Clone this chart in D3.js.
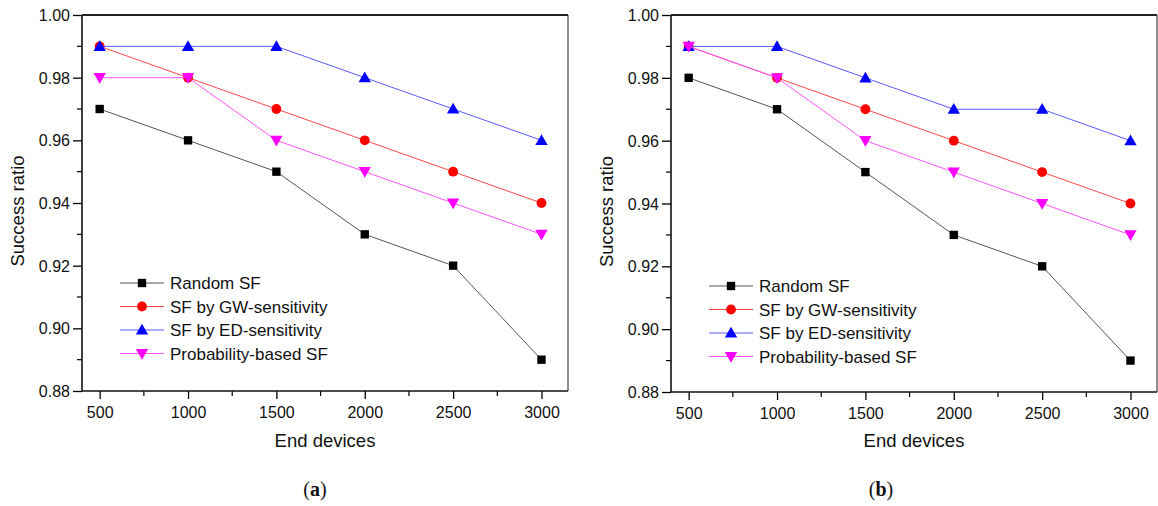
<!DOCTYPE html>
<html><head><meta charset="utf-8">
<script src="https://cdn.jsdelivr.net/npm/d3@7"></script>
<style>body{margin:0;background:#fff}svg{display:block}</style>
</head><body>
<svg id="c" width="1158" height="506"></svg>
<script>
const devices = [500, 1000, 1500, 2000, 2500, 3000];
const seriesNames = ["Random SF", "SF by GW-sensitivity", "SF by ED-sensitivity", "Probability-based SF"];
const xTicks = [500, 1000, 1500, 2000, 2500, 3000];
const yTicks = [0.88, 0.90, 0.92, 0.94, 0.96, 0.98, 1.00];

const aRandom = [0.97, 0.96, 0.95, 0.93, 0.92, 0.89];
const aGW     = [0.99, 0.98, 0.97, 0.96, 0.95, 0.94];
const aED     = [0.99, 0.99, 0.99, 0.98, 0.97, 0.96];
const aProb   = [0.98, 0.98, 0.96, 0.95, 0.94, 0.93];

const bRandom = [0.98, 0.97, 0.95, 0.93, 0.92, 0.89];
const bGW     = [0.99, 0.98, 0.97, 0.96, 0.95, 0.94];
const bED     = [0.99, 0.99, 0.98, 0.97, 0.97, 0.96];
const bProb   = [0.99, 0.98, 0.96, 0.95, 0.94, 0.93];

const styles = [
  {line: "#555", fill: "#000", sym: d3.symbolSquare, size: 70, rot: 0},
  {line: "#ff4a4a", fill: "#ff0000", sym: d3.symbolCircle, size: 76, rot: 0},
  {line: "#5a5aff", fill: "#0000ff", sym: d3.symbolTriangle, size: 66, rot: 0},
  {line: "#ff55ff", fill: "#ff00ff", sym: d3.symbolTriangle, size: 66, rot: 180}
];

const svg = d3.select("#c");
const font = "'Liberation Sans', Arial, sans-serif";

function panel(opts) {
  const {left, right, top, bottom, data, legendX, legendY, label} = opts;
  const x = d3.scaleLinear().domain([400, 3150]).range([left, right]);
  const y = d3.scaleLinear().domain([0.88, 1.00]).range([bottom, top]);
  const g = svg.append("g");

  // minor ticks
  const xMinor = d3.range(750, 3001, 500);
  const yMinor = d3.range(0.89, 1.0, 0.02);
  g.selectAll(".xm").data(xMinor).join("line")
    .attr("x1", d => x(d)).attr("x2", d => x(d))
    .attr("y1", bottom).attr("y2", bottom + 5)
    .attr("stroke", "#000").attr("stroke-width", 1.2);
  g.selectAll(".ym").data(yMinor).join("line")
    .attr("y1", d => y(d)).attr("y2", d => y(d))
    .attr("x1", left).attr("x2", left - 5)
    .attr("stroke", "#000").attr("stroke-width", 1.2);

  // axes
  const xa = g.append("g").attr("transform", `translate(0,${bottom})`)
    .call(d3.axisBottom(x).tickValues(xTicks).tickSize(8).tickSizeOuter(0).tickFormat(d3.format("d")));
  const ya = g.append("g").attr("transform", `translate(${left},0)`)
    .call(d3.axisLeft(y).tickValues(yTicks).tickSize(9).tickSizeOuter(0).tickFormat(d3.format(".2f")));
  [xa, ya].forEach(a => {
    a.select(".domain").remove();
    a.selectAll(".tick line").attr("stroke", "#000").attr("stroke-width", 1.3);
    a.selectAll("text").attr("font-family", font).attr("font-size", 16).attr("fill", "#111");
  });
  xa.selectAll("text").attr("y", 21).attr("dy", "0.35em");
  ya.selectAll("text").attr("x", -12).attr("dy", "0.35em");

  // frame
  g.append("line").attr("x1", left).attr("x2", left).attr("y1", top).attr("y2", bottom)
    .attr("stroke", "#111").attr("stroke-width", 1.6);
  g.append("line").attr("x1", left).attr("x2", right).attr("y1", bottom).attr("y2", bottom)
    .attr("stroke", "#111").attr("stroke-width", 1.6);
  g.append("line").attr("x1", left).attr("x2", right).attr("y1", top).attr("y2", top)
    .attr("stroke", "#222").attr("stroke-width", 2.2);
  g.append("line").attr("x1", right).attr("x2", right).attr("y1", top).attr("y2", bottom)
    .attr("stroke", "#333").attr("stroke-width", 1.1);

  const line = d3.line().x((d, i) => x(devices[i])).y(d => y(d));
  data.forEach((vals, si) => {
    const s = styles[si];
    g.append("path").datum(vals).attr("d", line)
      .attr("fill", "none").attr("stroke", s.line).attr("stroke-width", 1);
    g.selectAll(".m" + si).data(vals).join("path")
      .attr("d", d3.symbol().type(s.sym).size(s.size))
      .attr("transform", (d, i) => `translate(${x(devices[i])},${y(d) + (s.sym === d3.symbolTriangle ? (s.rot ? -1 : 1) : 0)}) rotate(${s.rot})`)
      .attr("fill", s.fill);
  });

  // legend
  seriesNames.forEach((name, si) => {
    const s = styles[si];
    const ly = legendY + si * 23.5;
    g.append("line").attr("x1", legendX).attr("x2", legendX + 44).attr("y1", ly).attr("y2", ly)
      .attr("stroke", s.line).attr("stroke-width", 1);
    g.append("path").attr("d", d3.symbol().type(s.sym).size(s.size))
      .attr("transform", `translate(${legendX + 22},${ly + (s.sym === d3.symbolTriangle ? (s.rot ? -1 : 1) : 0)}) rotate(${s.rot})`)
      .attr("fill", s.fill);
    g.append("text").attr("x", legendX + 50).attr("y", ly).attr("dy", "0.36em")
      .attr("font-family", font).attr("font-size", 17).attr("fill", "#111").text(name);
  });

  // axis titles
  g.append("text").attr("x", (left + right) / 2).attr("y", 447)
    .attr("text-anchor", "middle").attr("font-family", font).attr("font-size", 18.5).attr("fill", "#111")
    .text("End devices");
  g.append("text").attr("transform", `translate(${left - 58},${(top + bottom) / 2 + 8}) rotate(-90)`)
    .attr("text-anchor", "middle").attr("font-family", font).attr("font-size", 18.5).attr("fill", "#111")
    .text("Success ratio");

  const t = g.append("text").attr("x", label.x).attr("y", 496).attr("text-anchor", "middle")
    .attr("font-family", "'Liberation Serif', 'Times New Roman', serif").attr("font-size", 20).attr("fill", "#111");
  t.append("tspan").text("(");
  t.append("tspan").attr("font-weight", "bold").text(label.t);
  t.append("tspan").text(")");
}

panel({left: 82, right: 568, top: 15, bottom: 391,
  data: [aRandom, aGW, aED, aProb], legendX: 120, legendY: 283, label: {x: 315, t: "a"}});
panel({left: 671, right: 1157, top: 15, bottom: 392,
  data: [bRandom, bGW, bED, bProb], legendX: 709, legendY: 286, label: {x: 881, t: "b"}});
</script>
</body></html>
